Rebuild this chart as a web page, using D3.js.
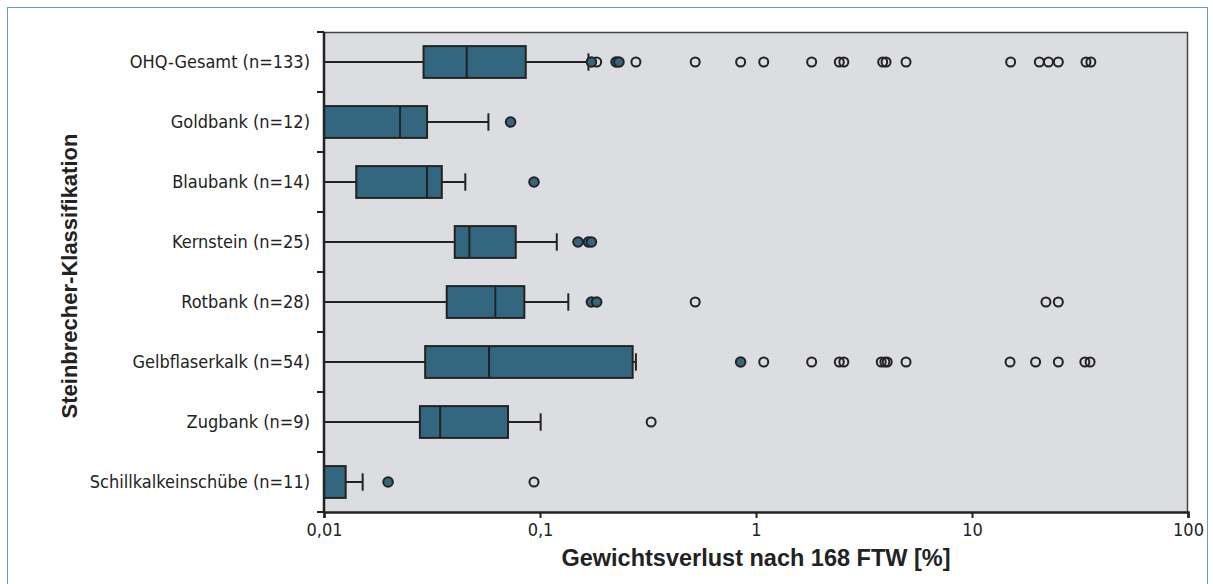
<!DOCTYPE html>
<html>
<head>
<meta charset="utf-8">
<script src="https://cdn.jsdelivr.net/npm/d3@7"></script>
<style>
  body { margin: 0; background: #fff; }
  .cond { font-family: "Liberation Sans Narrow", "DejaVu Sans Condensed", "Roboto Condensed", sans-serif; }
  .bold { font-family: "Liberation Sans", Arial, sans-serif; font-weight: bold; }
</style>
</head>
<body>
<svg id="chart"></svg>
<script>
const categories = [
  "OHQ-Gesamt (n=133)",
  "Goldbank (n=12)",
  "Blaubank (n=14)",
  "Kernstein (n=25)",
  "Rotbank (n=28)",
  "Gelbflaserkalk (n=54)",
  "Zugbank (n=9)",
  "Schillkalkeinschübe (n=11)"
];

// values below 0.01 lie left of the axis and are clamped to it
const whiskerLow = [0.005, 0.005, 0.005, 0.005, 0.005, 0.005, 0.005, 0.005];
const q1 = [0.0289, 0.006, 0.0141, 0.0403, 0.0370, 0.0294, 0.0278, 0.006];
const median = [0.0458, 0.0225, 0.0300, 0.0471, 0.0621, 0.0581, 0.0345, 0.009];
const q3 = [0.0859, 0.0300, 0.0351, 0.0772, 0.0846, 0.2685, 0.0711, 0.0126];
const whiskerHigh = [0.1676, 0.0577, 0.0451, 0.1196, 0.1352, 0.278, 0.1007, 0.0151];

const filledOutliers = [
  [0.173, 0.225, 0.232],
  [0.0731],
  [0.0938],
  [0.150, 0.1676, 0.173],
  [0.173, 0.183],
  [0.849],
  [],
  [0.0198]
];
const openOutliers = [
  [0.183, 0.278, 0.523, 0.849, 1.086, 1.81, 2.43, 2.55, 3.86, 4.0, 4.95, 15.1, 20.5, 22.6, 25.1, 33.7, 35.5],
  [],
  [],
  [],
  [0.523, 22.0, 25.1],
  [1.086, 1.81, 2.43, 2.55, 3.8, 3.95, 4.05, 4.95, 15.0, 19.7, 25.1, 33.3, 35.2],
  [0.327],
  [0.0938]
];

const xTicks = [0.01, 0.1, 1, 10, 100];

const W = 1213, H = 584;
const margin = { top: 32, right: 25, bottom: 72, left: 324 };
const width = W - margin.left - margin.right,
  height = H - margin.top - margin.bottom;

const teal = "#33677f";
const ink = "#222";

const root = d3.select("#chart").attr("width", W).attr("height", H);

// outer frame
root.append("rect")
  .attr("x", 7.5).attr("y", 7.5)
  .attr("width", 1200).attr("height", 600)
  .attr("fill", "none")
  .attr("stroke", "#6c9fb2")
  .attr("stroke-width", 1);

const svg = root.append("g")
  .attr("transform", `translate(${margin.left},${margin.top})`);

const x = d3.scaleLog().domain([0.01, 100]).range([0, width]).clamp(true);
const y = d3.scaleBand().domain(categories).range([0, height]).padding(0);

const boxH = y.bandwidth() * 0.53;
const capH = y.bandwidth() * 0.29;

svg.append("rect")
  .attr("width", width).attr("height", height)
  .attr("fill", "#dcdde0");

// top and right frame
svg.append("path")
  .attr("d", `M0,0.5H${width - 0.5}V${height}`)
  .attr("fill", "none")
  .attr("stroke", "#444")
  .attr("stroke-width", 1.5);

const rows = categories.map((c, i) => ({
  cat: c, lo: whiskerLow[i], q1: q1[i], med: median[i], q3: q3[i], hi: whiskerHigh[i],
  filled: filledOutliers[i], open: openOutliers[i]
}));

const row = svg.selectAll(".row").data(rows).enter().append("g")
  .attr("class", "row")
  .attr("transform", (d) => `translate(0,${y(d.cat) + y.bandwidth() / 2})`);

// whisker line
row.append("line")
  .attr("x1", (d) => x(d.lo)).attr("x2", (d) => x(d.hi))
  .attr("stroke", ink).attr("stroke-width", 2);

// whisker cap
row.append("line")
  .attr("x1", (d) => x(d.hi)).attr("x2", (d) => x(d.hi))
  .attr("y1", -capH / 2).attr("y2", capH / 2)
  .attr("stroke", ink).attr("stroke-width", 2);

row.append("rect")
  .attr("x", (d) => x(d.q1))
  .attr("y", -boxH / 2)
  .attr("width", (d) => x(d.q3) - x(d.q1))
  .attr("height", boxH)
  .attr("fill", teal)
  .attr("stroke", ink)
  .attr("stroke-width", 2);

row.append("line")
  .attr("x1", (d) => x(d.med)).attr("x2", (d) => x(d.med))
  .attr("y1", -boxH / 2).attr("y2", boxH / 2)
  .attr("stroke", ink).attr("stroke-width", 2);

row.selectAll(".open").data((d) => d.open).enter().append("circle")
  .attr("class", "open")
  .attr("cx", (d) => x(d)).attr("r", 4.5)
  .attr("fill", "none")
  .attr("stroke", ink).attr("stroke-width", 2);

row.selectAll(".filled").data((d) => d.filled).enter().append("circle")
  .attr("class", "filled")
  .attr("cx", (d) => x(d)).attr("r", 4.8)
  .attr("fill", teal)
  .attr("stroke", ink).attr("stroke-width", 2);

// x axis
const xAxis = svg.append("g")
  .attr("transform", `translate(0,${height})`)
  .call(d3.axisBottom(x)
    .tickValues(xTicks)
    .tickSize(6)
    .tickPadding(5)
    .tickFormat((d) => String(d).replace(".", ",")));
xAxis.select(".domain").attr("stroke", ink).attr("stroke-width", 2.5);
xAxis.selectAll(".tick line").attr("stroke", ink).attr("stroke-width", 2);
xAxis.selectAll("text")
  .attr("class", "cond")
  .attr("fill", "#222")
  .style("font-size", "18px");

// y axis: labels at band centres, ticks at band edges
const yAxis = svg.append("g")
  .call(d3.axisLeft(y).tickSize(0).tickPadding(14));
yAxis.select(".domain").remove();
yAxis.selectAll("text")
  .attr("class", "cond")
  .attr("fill", "#222")
  .style("font-size", "18px");

const edges = categories.map((c) => y(c)).concat([height]);
svg.selectAll(".ytick").data(edges).enter().append("line")
  .attr("class", "ytick")
  .attr("x1", -7).attr("x2", 0)
  .attr("y1", (d) => d).attr("y2", (d) => d)
  .attr("stroke", ink).attr("stroke-width", 2);

svg.append("line")
  .attr("x1", 0).attr("x2", 0)
  .attr("y1", 0).attr("y2", height + 1)
  .attr("stroke", ink).attr("stroke-width", 2.5);

svg.append("text")
  .attr("class", "bold")
  .attr("x", width / 2)
  .attr("y", height + 54)
  .attr("text-anchor", "middle")
  .attr("fill", "#222")
  .style("font-size", "23.5px")
  .text("Gewichtsverlust nach 168 FTW [%]");

svg.append("text")
  .attr("class", "bold")
  .attr("transform", "rotate(-90)")
  .attr("x", -244)
  .attr("y", -247)
  .attr("text-anchor", "middle")
  .attr("fill", "#222")
  .style("font-size", "22px")
  .text("Steinbrecher-Klassifikation");
</script>
</body>
</html>
